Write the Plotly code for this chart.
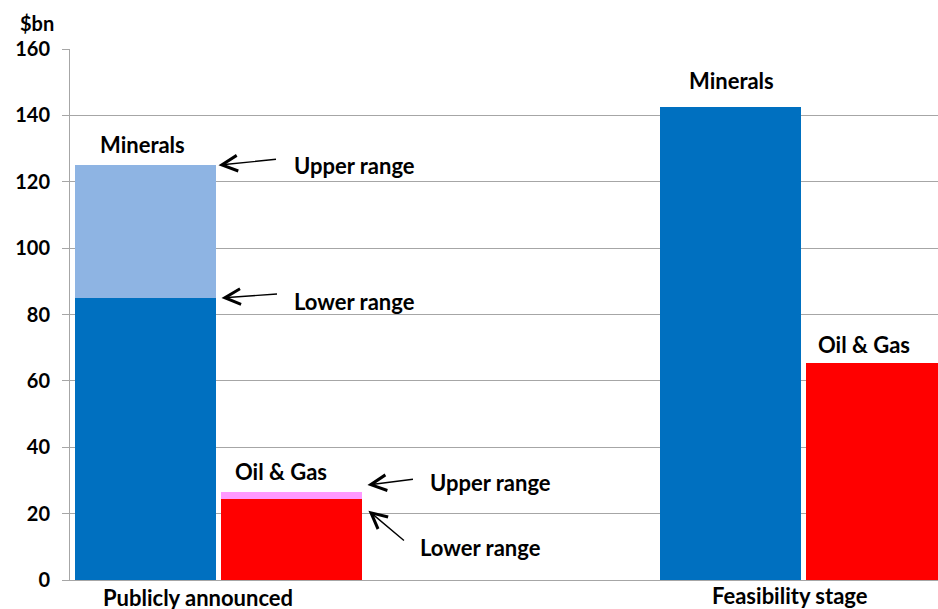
import plotly.graph_objects as go

# ---- data ----
categories = ["Publicly announced", "Feasibility stage"]
minerals_lower = [85, 142.5]
minerals_upper = [125, None]
oilgas_lower = [24.5, 65.5]
oilgas_upper = [26.5, None]
y_ticks = [0, 20, 40, 60, 80, 100, 120, 140, 160]

# ---- styling ----
FONT = "Lato"
FS = 22
DARK_BLUE = "#0070C0"
LIGHT_BLUE = "#8EB4E3"
RED = "#FF0000"
PINK = "#FF99FF"
GRID = "#A6A6A6"

BW = 0.241      # bar width (axis units)
OFF = 0.1256    # offset of each bar from category centre
idx = list(range(len(categories)))
x_min = [i - OFF for i in idx]
x_oil = [i + OFF for i in idx]

fig = go.Figure()

# Minerals lower (solid)
fig.add_trace(go.Bar(x=x_min, y=minerals_lower, width=BW,
                     marker=dict(color=DARK_BLUE, line=dict(width=0)),
                     hoverinfo="skip", showlegend=False))
# Minerals upper range segment
mu_x = [x for x, u in zip(x_min, minerals_upper) if u is not None]
mu_b = [l for l, u in zip(minerals_lower, minerals_upper) if u is not None]
mu_h = [u - l for l, u in zip(minerals_lower, minerals_upper) if u is not None]
fig.add_trace(go.Bar(x=mu_x, y=mu_h, base=mu_b, width=BW,
                     marker=dict(color=LIGHT_BLUE, line=dict(width=0)),
                     hoverinfo="skip", showlegend=False))
# Oil & gas lower
fig.add_trace(go.Bar(x=x_oil, y=oilgas_lower, width=BW,
                     marker=dict(color=RED, line=dict(width=0)),
                     hoverinfo="skip", showlegend=False))
ou_x = [x for x, u in zip(x_oil, oilgas_upper) if u is not None]
ou_b = [l for l, u in zip(oilgas_lower, oilgas_upper) if u is not None]
ou_h = [u - l for l, u in zip(oilgas_lower, oilgas_upper) if u is not None]
fig.add_trace(go.Bar(x=ou_x, y=ou_h, base=ou_b, width=BW,
                     marker=dict(color=PINK, line=dict(width=0)),
                     hoverinfo="skip", showlegend=False))

tf = dict(family=FONT, size=FS, color="black", weight=700)
ann = []

# Series labels above bars
ann.append(dict(x=x_min[0], y=minerals_upper[0], xref="x", yref="y", text="Minerals",
                showarrow=False, yanchor="bottom", xshift=-3, yshift=5, font=tf))
ann.append(dict(x=x_oil[0], y=oilgas_upper[0], xref="x", yref="y", text="Oil &amp; Gas",
                showarrow=False, yanchor="bottom", xshift=-11, yshift=5, font=tf))
ann.append(dict(x=x_min[1], y=minerals_lower[1], xref="x", yref="y", text="Minerals",
                showarrow=False, yanchor="bottom", xshift=1, yshift=11, font=tf))
ann.append(dict(x=x_oil[1], y=oilgas_lower[1], xref="x", yref="y", text="Oil &amp; Gas",
                showarrow=False, yanchor="bottom", xshift=-13, yshift=3, font=tf))

# Range callouts (arrows)
edge_min = x_min[0] + BW / 2
edge_oil = x_oil[0] + BW / 2
arrow = dict(showarrow=True, arrowhead=5, arrowsize=2.2, arrowwidth=1.4,
             arrowcolor="black", text="", xref="x", yref="y", standoff=0)
ann.append(dict(arrow, x=edge_min, y=minerals_upper[0], xshift=3, ax=59, ay=-6))
ann.append(dict(arrow, x=edge_min, y=minerals_lower[0], xshift=6, ax=57, ay=-4))
ann.append(dict(arrow, x=edge_oil, y=oilgas_upper[0], xshift=5, yshift=7, ax=47, ay=-6))
ann.append(dict(arrow, x=edge_oil, y=oilgas_lower[0], xshift=6, yshift=-12, ax=37, ay=31))

# Range texts
ann.append(dict(x=edge_min, y=minerals_upper[0], xref="x", yref="y", text="Upper range",
                showarrow=False, xanchor="left", xshift=76, font=tf))
ann.append(dict(x=edge_min, y=minerals_lower[0], xref="x", yref="y", text="Lower range",
                showarrow=False, xanchor="left", xshift=76, yshift=-4, font=tf))
ann.append(dict(x=edge_oil, y=oilgas_upper[0], xref="x", yref="y", text="Upper range",
                showarrow=False, xanchor="left", xshift=66, yshift=10, font=tf))
ann.append(dict(x=edge_oil, y=oilgas_lower[0], xref="x", yref="y", text="Lower range",
                showarrow=False, xanchor="left", xshift=56, yshift=-49, font=tf))

# Category labels
ann.append(dict(x=idx[0], y=0, xref="x", yref="paper", text=categories[0],
                showarrow=False, yanchor="top", xshift=-20, yshift=-2, font=tf))
ann.append(dict(x=idx[1], y=0, xref="x", yref="paper", text=categories[1],
                showarrow=False, yanchor="top", xshift=-14, yshift=0, font=tf))

# Unit label
ann.append(dict(x=0, y=1, xref="paper", yref="paper", text="$bn", showarrow=False,
                xanchor="left", yanchor="bottom", xshift=-52, yshift=12,
                font=dict(tf, size=20)))

fig.update_layout(
    width=938, height=609,
    margin=dict(l=70, r=0, t=49, b=29),
    paper_bgcolor="white", plot_bgcolor="white",
    barmode="overlay", bargap=0,
    font=dict(family=FONT, size=FS, color="black"),
    annotations=ann,
    xaxis=dict(range=[-0.2538, 1.2299], showgrid=False, zeroline=False,
               showticklabels=False, ticks="", showline=True,
               linecolor=GRID, linewidth=1),
    yaxis=dict(range=[0, 160], tickvals=y_ticks, showgrid=True, gridcolor=GRID,
               gridwidth=1, zeroline=False, showline=True, linecolor=GRID,
               linewidth=1, ticks="outside", ticklen=7, tickcolor=GRID,
               ticklabelstandoff=8,
               tickfont=dict(family=FONT, size=20, color="black", weight=700)),
)

fig.write_html("out.html")
